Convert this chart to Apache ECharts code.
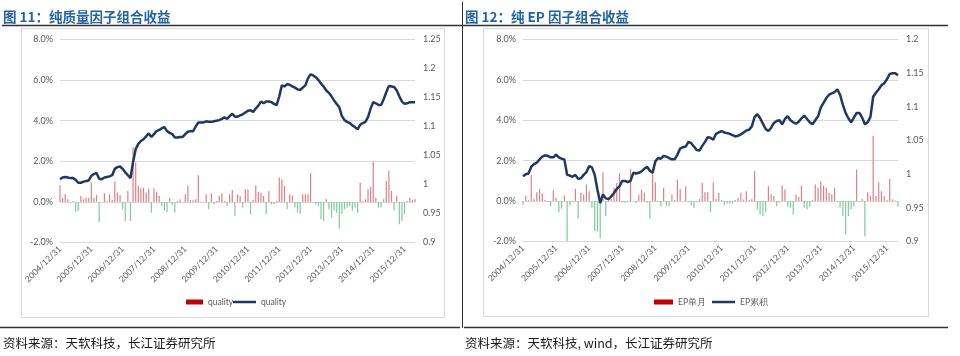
<!DOCTYPE html>
<html><head><meta charset="utf-8">
<script src="https://cdn.jsdelivr.net/npm/echarts@6/dist/echarts.min.js"></script>
<style>html,body{margin:0;padding:0;background:#fff}#c{width:960px;height:356px}</style>
</head><body><div id="c"></div><script>
// month-end categories 2004/12/31 .. 2016/04/30
const categories = [];
for (let y = 2004, m = 12; categories.length < 137; m++) {
  if (m > 12) { m = 1; y++; }
  const d = new Date(y, m, 0).getDate();
  categories.push(y + '/' + (m < 10 ? '0' + m : m) + '/' + d);
}

// 图11 纯质量因子：单月收益(%)
const qualityMonthly = [
0.82,0.2,0.38,0.13,-0.07,0.05,-0.49,-0.45,0.3,0.13,
0.21,0.2,0.95,0.2,0.34,-0.99,-0.03,0.43,0.05,0.38,
0.1,1.0,0.46,0.34,-0.36,-0.94,0.54,-0.94,2.68,1.94,
0.79,0.66,0.7,0.46,0.66,-0.53,0.66,0.5,0.3,-0.2,
-0.44,-0.5,0.2,-0.15,-0.53,0.05,0.13,-0.03,0.38,0.79,
0.1,0.08,0.13,1.31,0.02,-0.03,0.38,-0.36,0.43,-0.12,
0.05,0.3,0.43,0.05,-0.2,0.38,0.59,-0.69,0.38,0.3,
-0.28,0.62,0.62,-0.6,0.1,0.82,0.49,0.46,0.3,-0.6,
0.54,-0.12,-0.12,0.05,1.2,1.12,0.79,-0.36,0.38,0.3,
-0.28,-0.53,-0.6,0.38,0.38,0.38,1.41,0.0,-0.12,-0.2,
-0.85,-0.94,0.13,-0.36,-0.77,-0.44,-0.53,-1.31,-0.6,-0.36,
-0.28,-0.2,-0.44,-0.28,-0.53,0.95,0.05,0.13,0.62,0.75,
1.97,0.2,-0.28,-0.28,0.13,1.03,1.53,0.54,-0.44,0.3,
-1.1,-0.94,-0.6,0.05,0.2,0.1,0.13];
// 图11 纯质量因子：累积净值
const qualityCum = [
1.009,1.012,1.013,1.012,1.011,1.011,1.008,1.003,1.003,1.005,
1.006,1.007,1.015,1.018,1.020,1.010,1.009,1.012,1.013,1.014,
1.016,1.027,1.030,1.031,1.027,1.021,1.016,1.011,1.039,1.061,
1.070,1.075,1.078,1.083,1.088,1.082,1.087,1.092,1.094,1.097,
1.099,1.092,1.089,1.087,1.081,1.081,1.082,1.082,1.087,1.091,
1.092,1.092,1.100,1.107,1.107,1.107,1.109,1.108,1.108,1.109,
1.110,1.111,1.113,1.116,1.113,1.118,1.122,1.117,1.117,1.119,
1.121,1.124,1.127,1.128,1.125,1.131,1.136,1.143,1.140,1.143,
1.143,1.142,1.139,1.137,1.152,1.171,1.169,1.173,1.172,1.169,
1.167,1.164,1.163,1.167,1.171,1.183,1.190,1.188,1.185,1.180,
1.174,1.169,1.162,1.158,1.152,1.145,1.139,1.133,1.118,1.111,
1.108,1.106,1.102,1.099,1.095,1.103,1.106,1.108,1.116,1.131,
1.142,1.140,1.137,1.137,1.147,1.159,1.170,1.169,1.168,1.162,
1.152,1.143,1.139,1.140,1.142,1.142,1.142];
// 图12 纯EP因子：单月收益(%)
const epMonthly = [
-0.2,0.28,0.05,1.31,0.1,0.44,0.6,0.38,0.05,-0.05,
-0.25,0.54,0.16,-0.57,-0.38,0.28,-1.97,-0.2,-0.05,0.6,
-0.87,0.41,0.33,0.82,0.49,-0.33,-1.48,-1.52,-1.85,1.43,
-0.74,0.08,0.11,0.66,0.9,1.39,-0.05,-0.08,-0.05,1.59,
0.0,-0.1,0.33,0.57,0.41,-0.08,-0.87,1.39,0.93,-0.05,
-0.25,0.66,-0.25,-0.25,0.33,0.05,1.07,0.6,0.0,0.74,
-0.05,-0.2,-0.33,-0.05,0.1,0.9,0.44,0.44,-0.54,0.93,
0.1,0.41,0.05,-0.2,-0.12,-0.12,-0.12,0.05,0.16,0.41,
0.08,0.49,0.05,0.1,1.48,-0.41,-0.66,-0.74,-0.57,0.74,
0.33,0.25,-0.25,-0.08,0.77,0.57,-0.28,-0.33,-0.66,0.33,
0.2,0.77,-0.33,-0.41,-0.28,0.05,0.82,0.66,0.98,0.77,
0.66,0.41,0.33,0.66,-0.05,-0.33,-0.74,-1.64,-0.74,-0.41,
-0.25,1.56,-0.05,0.11,-1.75,0.44,0.25,3.23,0.25,0.93,
0.49,0.25,0.05,1.1,0.08,0.03,-0.28];
// 图12 纯EP因子：累积净值
const epCum = [
0.997,1.000,1.001,1.011,1.015,1.017,1.022,1.026,1.028,1.027,
1.025,1.025,1.029,1.025,1.023,1.022,0.999,0.998,0.996,0.999,
0.993,0.994,0.999,1.003,1.012,1.010,0.999,0.977,0.957,0.970,
0.964,0.963,0.967,0.972,0.978,0.982,0.990,0.990,0.988,0.990,
1.002,1.001,1.002,1.004,1.008,1.011,1.005,1.002,1.019,1.024,
1.023,1.027,1.026,1.024,1.022,1.022,1.029,1.038,1.040,1.041,
1.048,1.046,1.041,1.036,1.035,1.042,1.048,1.055,1.054,1.051,
1.060,1.062,1.064,1.062,1.061,1.060,1.058,1.056,1.057,1.059,
1.062,1.065,1.066,1.071,1.085,1.089,1.083,1.075,1.067,1.064,
1.069,1.076,1.079,1.080,1.074,1.082,1.086,1.080,1.077,1.075,
1.078,1.083,1.087,1.082,1.077,1.074,1.080,1.086,1.099,1.106,
1.113,1.118,1.120,1.122,1.126,1.118,1.103,1.091,1.083,1.077,
1.084,1.091,1.091,1.084,1.074,1.077,1.085,1.115,1.121,1.126,
1.132,1.135,1.141,1.149,1.150,1.150,1.147];

const FONT = 'Lato';
const LBL = '#595959';
const POS = '#df7f87', NEG = '#7fcb9c';
const navy = '#1f3864';

function xAxis(g) {
  return { gridIndex: g, type: 'category', data: categories, boundaryGap: false,
    axisLine: { show: false }, axisTick: { show: false }, splitLine: { show: false },
    axisLabel: { interval: 11, rotate: 45, fontSize: 8.5, color: LBL, fontFamily: FONT, margin: 5 } };
}
function pctAxis(g) {
  return { gridIndex: g, type: 'value', position: 'left', min: -2, max: 8, interval: 2,
    axisLine: { show: false }, axisTick: { show: false },
    splitLine: { lineStyle: { color: '#d9d9d9', width: 1 } },
    axisLabel: { fontSize: 9, color: LBL, fontFamily: FONT, margin: 7, formatter: v => v.toFixed(1) + '%' } };
}
function navAxis(g, max) {
  return { gridIndex: g, type: 'value', position: 'right', min: 0.9, max: max, interval: 0.05,
    axisLine: { show: false }, axisTick: { show: false }, splitLine: { show: false },
    axisLabel: { fontSize: 9, color: LBL, fontFamily: FONT, margin: 8, formatter: v => String(parseFloat(v.toFixed(2))) } };
}
function bar(name, xi, yi, data) {
  return { name, type: 'bar', xAxisIndex: xi, yAxisIndex: yi, data, barWidth: 1.2, animation: false,
    itemStyle: { color: p => (p.value >= 0 ? POS : NEG) }, z: 2 };
}
function line(name, xi, yi, data) {
  return { name, type: 'line', xAxisIndex: xi, yAxisIndex: yi, data, symbol: 'none', showSymbol: false,
    animation: false, lineStyle: { color: navy, width: 2.5 }, itemStyle: { color: navy }, z: 3 };
}
function legend(name, label, left, color, w, h) {
  return { data: [{ name, itemStyle: { color } }], left, top: 297.5, padding: 0, icon: 'rect',
    itemWidth: w, itemHeight: h, selectedMode: false, formatter: () => label,
    textStyle: { fontSize: 8.5, color: LBL, fontFamily: FONT } };
}

const chart = echarts.init(document.getElementById('c'), null, { renderer: 'canvas' });
chart.setOption({
  animation: false,
  backgroundColor: '#fff',
  grid: [
    { left: 60, top: 39.5, width: 355, height: 203 },
    { left: 523, top: 39.5, width: 375, height: 202 }
  ],
  xAxis: [xAxis(0), xAxis(1)],
  yAxis: [pctAxis(0), navAxis(0, 1.25), pctAxis(1), navAxis(1, 1.2)],
  legend: [
    legend('qBar', 'quality', 186, '#c00000', 17, 5),
    legend('qLine', 'quality', 233, navy, 23, 2.5),
    legend('epBar', 'EP单月', 654, '#c00000', 19, 5),
    legend('epLine', 'EP累积', 712, navy, 23, 2.5)
  ],
  series: [
    bar('qBar', 0, 0, qualityMonthly),
    line('qLine', 0, 1, qualityCum),
    bar('epBar', 1, 2, epMonthly),
    line('epLine', 1, 3, epCum)
  ],
  graphic: [
    { type: 'rect', silent: true, z: -10, shape: { x: 21.5, y: 28.5, width: 423, height: 289 }, style: { fill: null, stroke: '#d9d9d9', lineWidth: 1 } },
    { type: 'rect', silent: true, z: -10, shape: { x: 483.5, y: 28.5, width: 445, height: 288 }, style: { fill: null, stroke: '#d9d9d9', lineWidth: 1 } },
    { type: 'line', silent: true, shape: { x1: 2, y1: 25.5, x2: 948, y2: 25.5 }, style: { stroke: '#333', lineWidth: 1.5 } },
    { type: 'line', silent: true, shape: { x1: 462.5, y1: 2, x2: 462.5, y2: 328 }, style: { stroke: '#333', lineWidth: 1 } },
    { type: 'line', silent: true, shape: { x1: 0, y1: 327.5, x2: 460, y2: 327.5 }, style: { stroke: '#333', lineWidth: 1.5 } },
    { type: 'line', silent: true, shape: { x1: 464, y1: 327.5, x2: 948, y2: 327.5 }, style: { stroke: '#333', lineWidth: 1.5 } },
    { type: 'text', silent: true, x: 3, y: 16.5, style: { text: '图 11：纯质量因子组合收益', font: 'bold 13.5px "Noto Sans CJK SC"', fill: '#2263a8', textVerticalAlign: 'middle' } },
    { type: 'text', silent: true, x: 465, y: 16.5, style: { text: '图 12：纯 EP 因子组合收益', font: 'bold 13.5px "Noto Sans CJK SC"', fill: '#2263a8', textVerticalAlign: 'middle' } },
    { type: 'text', silent: true, x: 3, y: 343, style: { text: '资料来源：天软科技，长江证券研究所', font: '12.5px "Noto Sans CJK SC"', fill: '#1a1a1a', textVerticalAlign: 'middle' } },
    { type: 'text', silent: true, x: 465, y: 343, style: { text: '资料来源：天软科技, wind，长江证券研究所', font: '12.5px "Noto Sans CJK SC"', fill: '#1a1a1a', textVerticalAlign: 'middle' } }
  ]
});
</script></body></html>
